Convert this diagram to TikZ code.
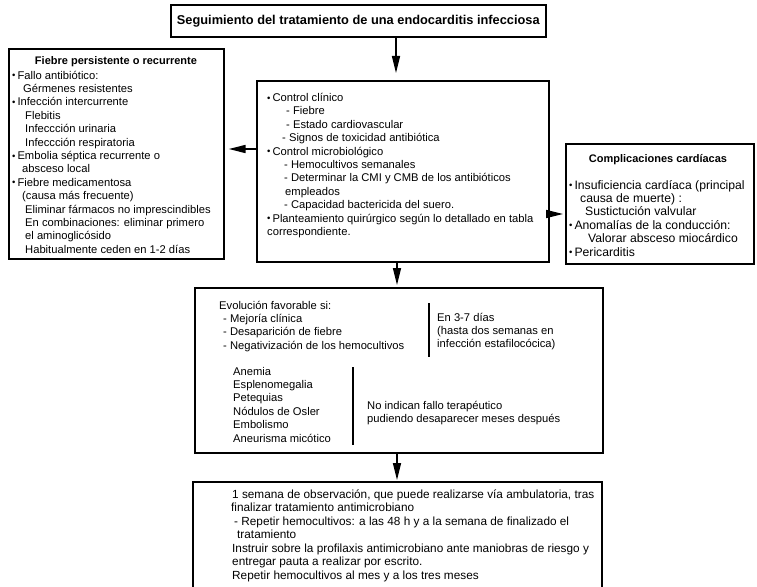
\documentclass[tikz,border=0pt]{standalone}
\usepackage{fontspec}
\setmainfont{Liberation Sans}
\usetikzlibrary{arrows.meta}
% small bullet used in the lists
\newcommand{\bul}{{\fontsize{9.5}{9.5}\selectfont\raisebox{0.1ex}{•}}\hspace{2pt}}
\newcommand{\ind}[1]{\hspace*{#1pt}}
\begin{document}
\begin{tikzpicture}[x=1pt,y=-1pt,
  box/.style={draw, line width=1.6pt, inner sep=0pt, anchor=north west},
  txt/.style={anchor=north west, inner sep=0pt, align=left,
              font=\fontsize{11.2}{13.4}\selectfont},
  bigtxt/.style={txt, font=\fontsize{12.2}{13.4}\selectfont},
  midtxt/.style={txt, font=\fontsize{11.8}{13.5}\selectfont},
  head/.style={anchor=base, inner sep=0pt, font=\bfseries\fontsize{11}{13}\selectfont},
  arr/.style={line width=1.5pt, -{Triangle[length=17pt,width=8pt]}},
  rule/.style={line width=1.8pt}]
\useasboundingbox (0,0) rectangle (757,586);

% frames
\node[box, minimum width=375pt, minimum height=32pt] (title) at (170,4) {};
\node[box, minimum width=215pt, minimum height=210pt] (left) at (8,48) {};
\node[box, minimum width=292pt, minimum height=181pt] (center) at (256,80) {};
\node[box, minimum width=188pt, minimum height=120pt] (right) at (565,143) {};
\node[box, minimum width=408pt, minimum height=165pt] (middle) at (194,287) {};
% last frame runs off the lower edge of the page
\coordinate (botNW) at (193,482);
\coordinate (botNE) at (602,482);
\draw[line width=1.6pt] (botNW |- 0,590) -- (botNW) -- (botNE) -- (botNE |- 0,590);

% title
\node[font=\bfseries\fontsize{12.8}{15}\selectfont, inner sep=0pt] (titletext) at (title.center) {Seguimiento del tratamiento de una endocarditis infecciosa};

% left frame
\node[head] (lefthead) at (116,65) {Fiebre persistente o recurrente};
\node[txt] (lefttext) at (12,69.6) {\strut\bul Fallo antibiótico:\\
\ind{11}Gérmenes resistentes\\
\bul Infección intercurrente\\
\ind{13}Flebitis\\
\ind{13}Infeccción urinaria\\
\ind{13}Infeccción respiratoria\\
\bul Embolia séptica recurrente o\\
\ind{10}absceso local\\
\bul Fiebre medicamentosa\\
\ind{10}(causa más frecuente)\\
\ind{13}Eliminar fármacos no imprescindibles\\
\ind{13}En combinaciones: eliminar primero\\
\ind{13}el aminoglicósido\\
\ind{13}Habitualmente ceden en 1-2 días};

% centre frame
\node[txt] (centertext) at (267,92) {\strut\bul Control clínico\\
\ind{19}- Fiebre\\
\ind{19}- Estado cardiovascular\\
\ind{15}- Signos de toxicidad antibiótica\\
\bul Control microbiológico\\
\ind{17}- Hemocultivos semanales\\
\ind{17}- Determinar la CMI y CMB de los antibióticos\\
\ind{18}empleados\\
\ind{17}- Capacidad bactericida del suero.\\
\bul Planteamiento quirúrgico según lo detallado en tabla\\
\ind{0}correspondiente.};

% right frame
\node[head] (righthead) at (658,162) {Complicaciones cardíacas};
\node[bigtxt] (righttext) at (569,179.6) {\strut\bul Insuficiencia cardíaca (principal\\
\ind{11}causa de muerte) :\\
\ind{16}Sustictución valvular\\
\bul Anomalías de la conducción:\\
\ind{19}Valorar absceso miocárdico\\
\bul Pericarditis};

% middle frame
\node[txt] (evol) at (219,299.6) {\strut Evolución favorable si:\\
\ind{4}- Mejoría clínica\\
\ind{4}- Desaparición de fiebre\\
\ind{4}- Negativización de los hemocultivos};
\node[txt] (plazo) at (437,311.6) {\strut En 3-7 días\\
(hasta dos semanas en\\
infección estafilocócica)};
\node[txt] (signos) at (233,365.6) {\strut Anemia\\
Esplenomegalia\\
Petequias\\
Nódulos de Osler\\
Embolismo\\
Aneurisma micótico};
\node[txt] (nofallo) at (367,399.6) {\strut No indican fallo terapéutico\\
pudiendo desaparecer meses después};
\coordinate (divAtop) at (429,303);
\coordinate (divAbot) at (429,357);
\coordinate (divBtop) at (353,367);
\coordinate (divBbot) at (353,445);
\draw[rule] (divAtop) -- (divAbot);
\draw[rule] (divBtop) -- (divBbot);

% bottom frame
\node[midtxt] (seguimiento) at (232,488.5) {\strut 1 semana de observación, que puede realizarse vía ambulatoria, tras\\
\ind{-1}finalizar tratamiento antimicrobiano\\
\ind{2}- Repetir hemocultivos: a las 48 h y a la semana de finalizado el\\
\ind{5}tratamiento\\
Instruir sobre la profilaxis antimicrobiano ante maniobras de riesgo y\\
entregar pauta a realizar por escrito.\\
Repetir hemocultivos al mes y a los tres meses};

% connectors
\draw[arr, shorten >=7pt] (title.south -| 396,0) -- (center.north -| 396,0);
\draw[arr, shorten >=4pt] (center.west |- 0,149) -- (left.east |- 0,149);
\draw[arr, shorten >=2pt] (center.east |- 0,214) -- (right.west |- 0,214);
\draw[arr, shorten >=2pt] (center.south -| 397,0) -- (middle.north -| 397,0);
\draw[arr, shorten >=2pt] (middle.south -| 397,0) -- (botNW -| 397,0);
\end{tikzpicture}
\end{document}
